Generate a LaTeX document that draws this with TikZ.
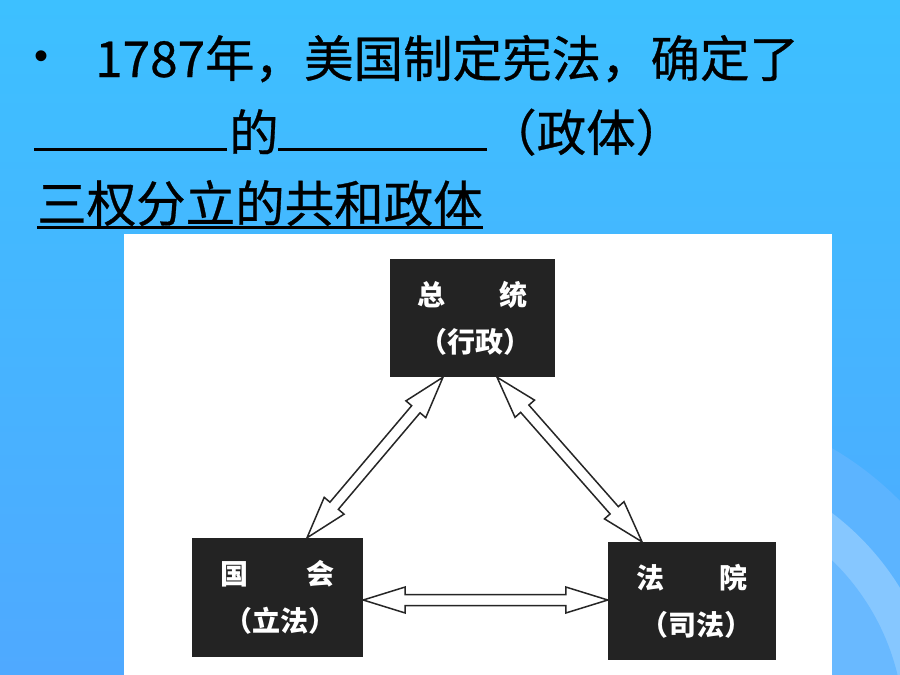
\documentclass[tikz,border=0pt]{standalone}
\usepackage{fontspec}
\usetikzlibrary{calc}
\newfontfamily\cjk{Noto Sans CJK SC}
\newfontfamily\cjkhead[FakeBold=0.6]{Noto Sans CJK SC}
\newfontfamily\latinsans{Liberation Sans}
\definecolor{bgtop}{HTML}{3DC0FF}
\definecolor{bgbot}{HTML}{4FA9FF}
\definecolor{bandA}{HTML}{5CB4FF}
\definecolor{bandB}{HTML}{86C7FF}
\definecolor{bandC}{HTML}{69B9FF}
\definecolor{boxc}{HTML}{232323}
\tikzset{
  toptext/.style={font=\cjkhead\fontsize{49.5}{55}\selectfont, text=black, inner sep=0pt},
  uline/.style={line width=3pt, black},
  govbox/.style={fill=boxc, text=white, font=\cjk\bfseries\fontsize{28}{47}\selectfont,
                 align=center, inner sep=0pt},
  dblarrow/.style={draw=black!85, fill=white, line width=1.5pt, line join=miter}
}
\newcommand\dblarr[2]{%
  \path[dblarrow] (#1)
    -- ($(#1)!42pt!(#2)!13pt!90:(#2)$)
    -- ($(#1)!42pt!(#2)!5.5pt!90:(#2)$)
    -- ($(#2)!42pt!(#1)!5.5pt!-90:(#1)$)
    -- ($(#2)!42pt!(#1)!13pt!-90:(#1)$)
    -- (#2)
    -- ($(#2)!42pt!(#1)!13pt!90:(#1)$)
    -- ($(#2)!42pt!(#1)!5.5pt!90:(#1)$)
    -- ($(#1)!42pt!(#2)!5.5pt!-90:(#2)$)
    -- ($(#1)!42pt!(#2)!13pt!-90:(#2)$)
    -- cycle;}
\begin{document}
\begin{tikzpicture}[x=1pt,y=-1pt]
\useasboundingbox (0,0) rectangle (900,675);
% background
\shade[top color=bgtop, bottom color=bgbot] (0,0) rectangle (900,675);
\begin{scope}
  \clip (0,0) rectangle (900,675);
  \fill[bandA] (668,730) circle[radius=326];
  \fill[bandB] (668,730) circle[radius=272];
  \fill[bandC] (668,730) circle[radius=236];
\end{scope}
% heading text
\node[font=\latinsans\fontsize{40}{44}\selectfont, inner sep=0pt] (bullet) at (42,60) {•};
\node[toptext, anchor=base west] (line1) at (95,77) {1787年，美国制定宪法，确定了};
\draw[uline] (34,149) -- (227,149);
\node[toptext, anchor=base west] (de) at (229,151) {的};
\draw[uline] (278,149) -- (487,149);
\node[toptext, anchor=base west] (zt) at (487,151) {（政体）};
\node[toptext, anchor=base west] (ans) at (37,222) {三权分立的共和政体};
\draw[uline] (37,227) -- (483,227);
% picture panel
\fill[white] (124,234) rectangle (832,675);
\node[govbox, minimum width=165pt, minimum height=118pt] (pres) at (472.5,318) {总\hspace{1.95em}统\\\hspace*{6pt}（行政）};
\node[govbox, minimum width=171pt, minimum height=119pt] (cong) at (277.5,597.5) {国\hspace{2.05em}会\\\hspace*{6pt}（立法）};
\node[govbox, minimum width=168pt, minimum height=118pt] (court) at (692,601) {法\hspace{1.95em}院\\\hspace*{8pt}（司法）};
% connectors
\coordinate (pL) at ($(pres.south)+(-29.5,0)$);
\coordinate (cT) at ($(cong.north)+(29.5,0)$);
\coordinate (pR) at ($(pres.south)+(24.5,0)$);
\coordinate (jT) at ($(court.north)+(-50,0)$);
\coordinate (cE) at ($(cong.east)+(0,2.5)$);
\coordinate (jW) at ($(court.west)+(0,-1)$);
\dblarr{pL}{cT}
\dblarr{pR}{jT}
\dblarr{cE}{jW}
\end{tikzpicture}
\end{document}
